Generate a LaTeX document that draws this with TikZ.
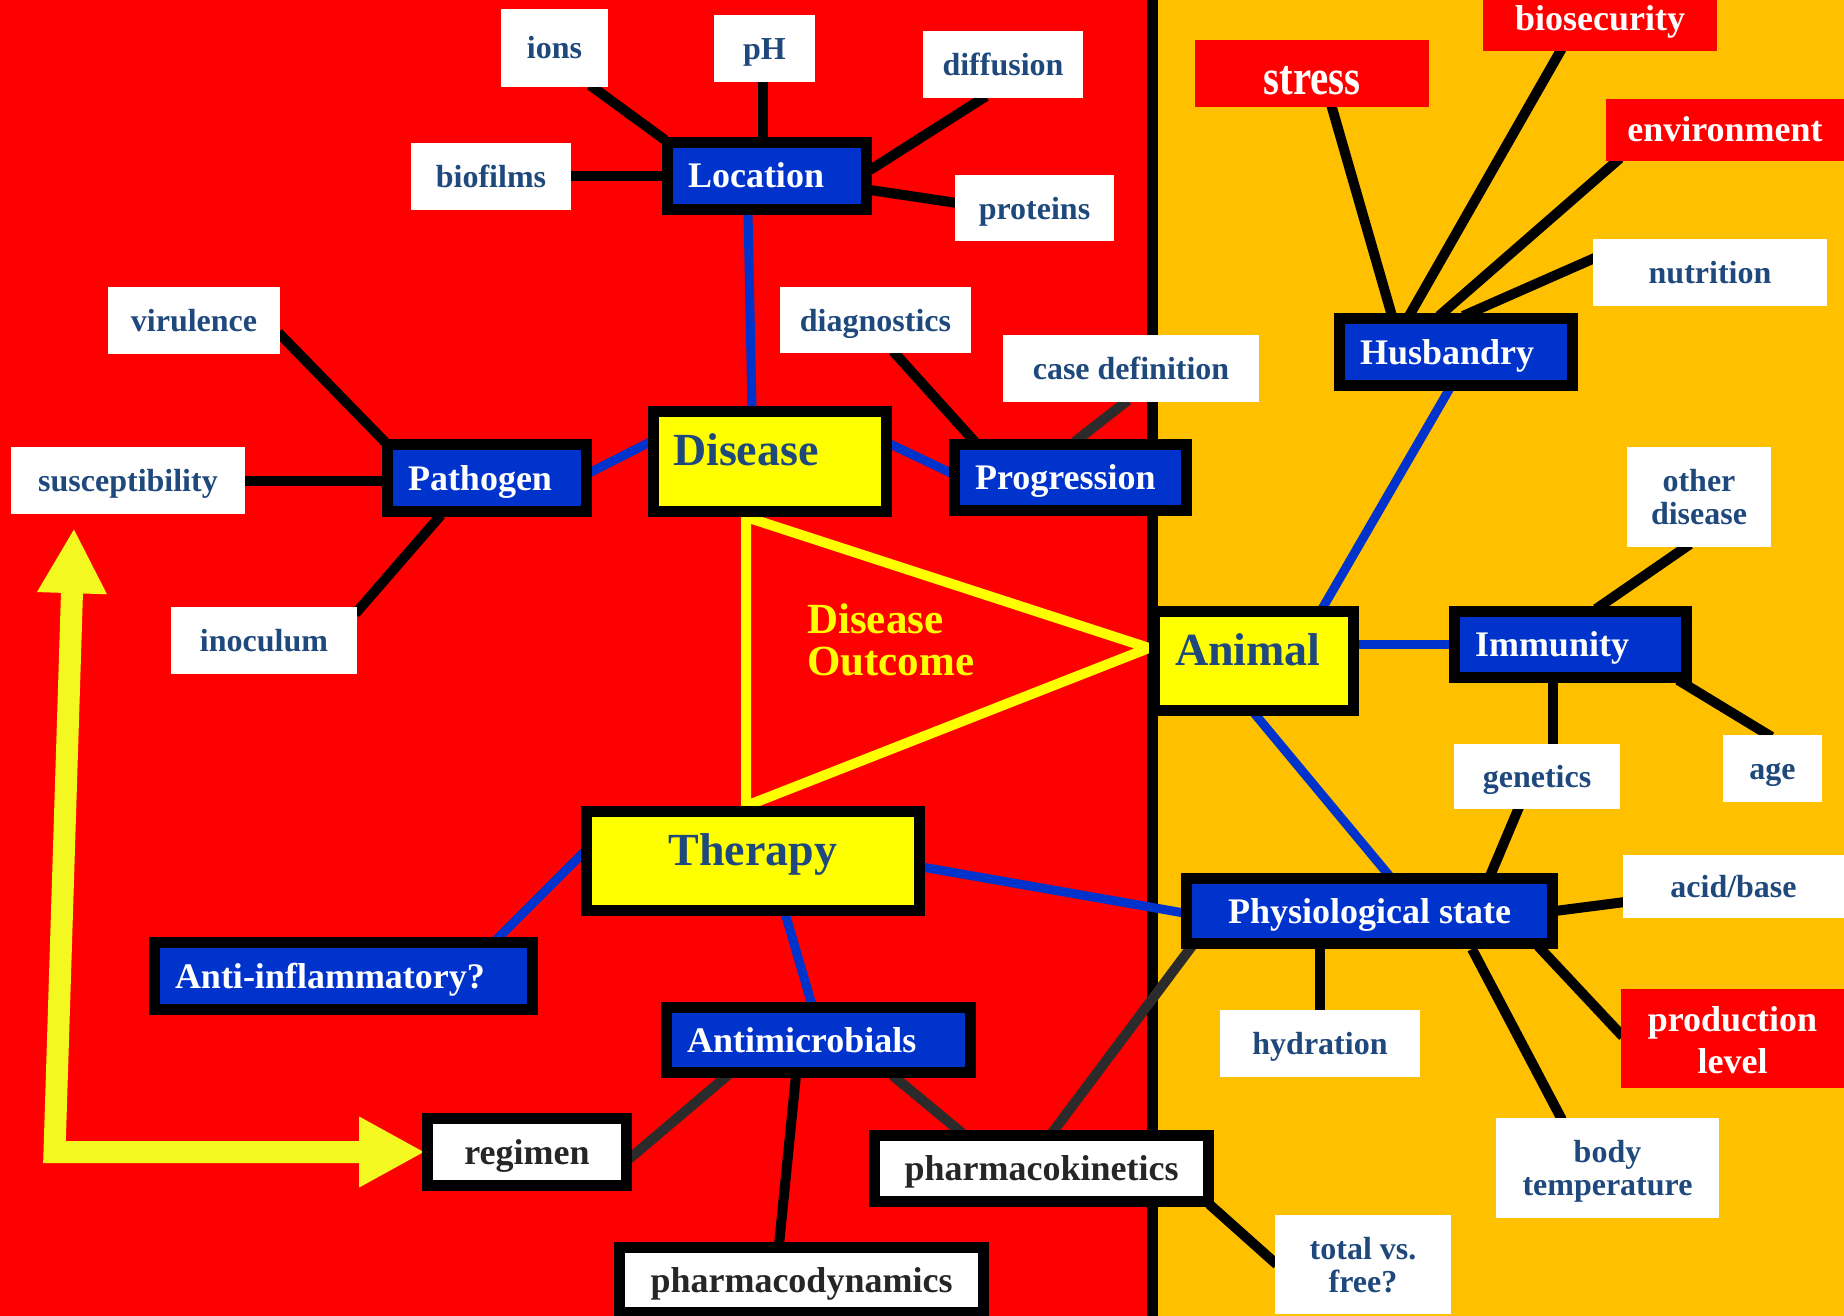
\documentclass[tikz,border=0pt]{standalone}
\usepackage{fontspec}
\setmainfont{Liberation Serif}[Ligatures=CommonOff]
\newfontfamily\narrowserif{Liberation Serif}[FakeStretch=0.82,Ligatures=CommonOff]
\usetikzlibrary{arrows.meta}

\definecolor{bgred}{HTML}{FF0000}
\definecolor{bgorange}{HTML}{FFC000}
\definecolor{boxblue}{HTML}{0033CC}
\definecolor{boxyellow}{HTML}{FFFF00}
\definecolor{navy}{HTML}{1F497D}
\definecolor{inkgray}{HTML}{262626}
\definecolor{darkline}{HTML}{2B2B2B}
\definecolor{arrowyellow}{HTML}{F2F820}

\pgfdeclarelayer{backdrop}
\pgfdeclarelayer{edges}
\pgfsetlayers{backdrop,edges,main}

\tikzset{
  dims/.style 2 args={minimum width=#1pt, minimum height=#2pt},
  % plain white labels with navy text
  wtag/.style={fill=white, text=navy, inner sep=0pt, align=center,
    font=\bfseries\fontsize{32}{33}\selectfont, text height=22pt, text depth=0pt},
  % a two-line label: the text box ends at the baseline of its last line
  twolines/.style={text height=55pt},
  % plain red labels with white text
  rtag/.style={fill=bgred, text=white, inner sep=0pt, align=center,
    font=\bfseries\fontsize{36}{42}\selectfont, text height=24pt, text depth=0pt},
  % boxes with a heavy black frame
  boxframe/.style={draw=black, line width=11pt, inner ysep=0pt},
  bluebox/.style={boxframe, fill=boxblue, text=white, inner xsep=20.5pt, align=left,
    font=\bfseries\fontsize{36}{40}\selectfont, text height=24pt, text depth=0pt},
  whitebox/.style={boxframe, fill=white, text=inkgray, inner xsep=0pt, align=center,
    font=\bfseries\fontsize{36}{40}\selectfont, text height=24pt, text depth=0pt},
  ybox/.style={boxframe, fill=boxyellow, text=navy, inner xsep=20pt,
    font=\bfseries\fontsize{46}{50}\selectfont, text height=30pt, text depth=22pt},
  % connectors
  blk/.style={draw=black, line width=10pt},
  gry/.style={draw=darkline, line width=10pt},
  blu/.style={draw=boxblue, line width=9pt},
  tri/.style={draw=boxyellow, line width=10pt, line join=miter},
  ylarrow/.style={draw=arrowyellow, line width=22pt, line join=miter,
    arrows={Triangle[length=65pt,width=65pt]-Triangle[length=66pt,width=66pt]}}
}

\begin{document}
\begin{tikzpicture}[x=1pt,y=-1pt]
\useasboundingbox (0,0) rectangle (1844,1316);
\clip (0,0) rectangle (1844,1316);

\begin{pgfonlayer}{backdrop}
  \fill[bgred] (0,0) rectangle (1152,1316);
  \fill[bgorange] (1152,0) rectangle (1844,1316);
  \fill[black] (1147,0) rectangle (1158,1316);
\end{pgfonlayer}

% ---- central concepts
\node[ybox, dims={233}{100}, text width=194pt, inner xsep=19.5pt, align=left] (disease) at (770,461.5) {Disease};
\node[ybox, dims={199}{99}, text width=158pt, inner xsep=20.5pt, align=left] (animal) at (1254,661) {Animal};
\node[ybox, dims={333}{99}, inner xsep=0pt, align=center] (therapy) at (753,861) {Therapy};

\node[anchor=west, inner sep=0pt, align=left, text=boxyellow,
  font=\bfseries\fontsize{43}{42}\selectfont, text height=70pt, text depth=0pt]
  (outcome) at (807,640) {Disease\\Outcome};

% ---- blue sub-topics
\node[bluebox, dims={199}{67}, text width=158pt] (loc) at (767,176) {Location};
\node[bluebox, dims={199}{67}, text width=158pt] (pathogen) at (487,478) {Pathogen};
\node[bluebox, dims={232}{66}, text width=191pt] (prog) at (1070.5,477.5) {Progression};
\node[bluebox, dims={233}{67}, text width=192pt] (husb) at (1456,352) {Husbandry};
\node[bluebox, dims={232}{66}, text width=191pt] (imm) at (1570.5,644.5) {Immunity};
\node[bluebox, dims={366}{65}, inner xsep=0pt, align=center] (physio) at (1369.5,911) {Physiological state};
\node[bluebox, dims={304}{65}, text width=263pt] (am) at (818.5,1040) {Antimicrobials};
\node[bluebox, dims={378}{67}, text width=337pt] (ai) at (343.5,976) {Anti-inflammatory?};

% ---- framed white boxes
\node[whitebox, dims={199}{67}] (regimen) at (527,1152) {regimen};
\node[whitebox, dims={334}{66}] (pk) at (1041.5,1168.5) {pharmacokinetics};
\node[whitebox, dims={364}{65}] (pd) at (801.5,1280) {pharmacodynamics};

% ---- plain labels
\node[wtag, dims={107}{78}] (ions) at (554.5,48) {ions};
\node[wtag, dims={101}{67}] (pH) at (764.5,48.5) {pH};
\node[wtag, dims={160}{67}] (diffusion) at (1003,64.5) {diffusion};
\node[wtag, dims={160}{67}] (biofilms) at (491,176.5) {biofilms};
\node[wtag, dims={159}{66}] (proteins) at (1034.5,208) {proteins};
\node[wtag, dims={191}{66}] (diag) at (875.5,320) {diagnostics};
\node[wtag, dims={256}{67}] (casedef) at (1131,368.5) {case definition};
\node[wtag, dims={172}{67}] (virulence) at (194,320.5) {virulence};
\node[wtag, dims={234}{67}] (susc) at (128,480.5) {susceptibility};
\node[wtag, dims={186}{67}] (inoculum) at (264,640.5) {inoculum};
\node[wtag, dims={234}{67}] (nutrition) at (1710,272.5) {nutrition};
\node[wtag, twolines, dims={144}{100}] (otherdis) at (1699,497) {other\\disease};
\node[wtag, dims={166}{65}] (genetics) at (1537,776.5) {genetics};
\node[wtag, dims={99}{67}] (age) at (1772.5,768.5) {age};
\node[wtag, dims={221}{63}] (acidbase) at (1733.5,886) {acid/base};
\node[wtag, dims={200}{67}] (hydration) at (1320,1043.5) {hydration};
\node[wtag, twolines, dims={223}{100}] (bodytemp) at (1607.5,1168) {body\\temperature};
\node[wtag, twolines, dims={176}{99}] (totalfree) at (1363,1264.5) {total vs.\\free?};

% ---- red labels
\node[rtag, dims={234}{67}, font=\narrowserif\bfseries\fontsize{50}{54}\selectfont, text height=43pt] (stress) at (1312,73.5) {stress};
\node[rtag, dims={234}{67}, text height=26pt] (biosec) at (1600,17.5) {biosecurity};
\node[rtag, dims={238}{62}] (env) at (1725,130) {environment};
\node[rtag, dims={223}{99}, text height=70pt] (production) at (1732.5,1038.5) {production\\level};

\begin{pgfonlayer}{edges}
  % Location
  \draw[blk] ([shift={(35.5,-2)}]ions.south) -- ([shift={(3,3)}]loc.north west);
  \draw[blk] ([shift={(-1.5,-2)}]pH.south) -- ([shift={(-4,3)}]loc.north);
  \draw[blk] ([shift={(-17,-2)}]diffusion.south) -- ([shift={(-2,-6)}]loc.east);
  \draw[blk] ([shift={(2,-5)}]proteins.west) -- ([shift={(-2,14)}]loc.east);
  \draw[blk] (biofilms.east) -- (biofilms.east -| loc.west);
  % Pathogen
  \draw[blk] ([shift={(-2,12)}]virulence.east) -- ([shift={(3,3)}]pathogen.north west);
  \draw[blk] (susc.east) -- (susc.east -| pathogen.west);
  \draw[blk] ([shift={(-2,7)}]inoculum.north east) -- ([shift={(-46,-2)}]pathogen.south);
  % Progression
  \draw[blk] ([shift={(17.5,-2)}]diag.south) -- ([shift={(26,3)}]prog.north west);
  \draw[gry] ([shift={(-3,-2)}]casedef.south) -- ([shift={(4,3)}]prog.north);
  % Husbandry
  \draw[blk] ([shift={(19,-3)}]stress.south) -- ([shift={(-64,3)}]husb.north);
  \draw[blk] ([shift={(-38,-3)}]biosec.south) -- ([shift={(-47,3)}]husb.north);
  \draw[blk] ([shift={(-105,-3)}]env.south) -- ([shift={(-17,3)}]husb.north);
  \draw[blk] ([shift={(3,-15)}]nutrition.west) -- ([shift={(7,3)}]husb.north);
  % Immunity
  \draw[blk] ([shift={(25.5,3)}]imm.north) -- ([shift={(-9,-3)}]otherdis.south);
  \draw[blk] ([xshift=-17.5]imm.south) -- ([xshift=-17.5]imm.south |- genetics.north);
  \draw[blk] ([shift={(-14,-3)}]imm.south east) -- ([shift={(-1,2)}]age.north);
  % Physiological state
  \draw[blk] ([shift={(-18,-2)}]genetics.south) -- ([shift={(120.5,3)}]physio.north);
  \draw[blk] ([shift={(-3,0)}]physio.east) -- ([shift={(2,16)}]acidbase.west);
  \draw[blk] ([shift={(-20,-3)}]physio.south east) -- ([shift={(2,-2)}]production.west);
  \draw[blk] (hydration.north) -- (hydration.north |- physio.south);
  \draw[blk] ([xshift=102.5]physio.south) -- ([shift={(-45.5,2)}]bodytemp.north);
  \draw[gry] ([shift={(10.5,3)}]pk.north) -- ([shift={(11,-3)}]physio.south west);
  \draw[blk] ([shift={(-5,-3)}]pk.south east) -- ([shift={(2,0)}]totalfree.west);
  % Antimicrobials
  \draw[gry] ([shift={(-90.5,-3)}]am.south) -- ([shift={(-3,7)}]regimen.east);
  \draw[blk] ([shift={(-22.5,-3)}]am.south) -- ([shift={(-22.5,3)}]pd.north);
  \draw[gry] ([shift={(73.5,-3)}]am.south) -- ([shift={(93,3)}]pk.north west);
  % links between the main concepts
  \draw[blu] ([shift={(-19,-3)}]loc.south) -- ([shift={(-18,3)}]disease.north);
  \draw[blu] ([shift={(-3,-5)}]pathogen.east) -- ([shift={(3,-20)}]disease.west);
  \draw[blu] ([shift={(-3,-18)}]disease.east) -- ([shift={(3,-4)}]prog.west);
  \draw[blu] ([shift={(-6,-3)}]husb.south) -- ([shift={(68,3)}]animal.north);
  \draw[blu] (imm.west) -- (imm.west -| animal.east);
  \draw[blu] ([shift={(0,-3)}]animal.south) -- ([shift={(20,3)}]physio.north);
  \draw[blu] ([shift={(-3,6)}]therapy.east) -- ([shift={(3,2)}]physio.west);
  \draw[blu] ([shift={(32,-3)}]therapy.south) -- ([shift={(-6.5,3)}]am.north);
  \draw[blu] ([shift={(3,-9)}]therapy.west) -- ([shift={(152.5,3)}]ai.north);
  % disease triangle
  \draw[tri] ([xshift=-24]disease.south) -- ([shift={(0,-13)}]animal.west) -- ([xshift=-7]therapy.north) -- cycle;
  % feedback arrow between regimen and susceptibility
  \draw[ylarrow] ([shift={(-54,14)}]susc.south) -- ([xshift=-367.5]regimen.west) -- ([xshift=3]regimen.west);
\end{pgfonlayer}
\end{tikzpicture}
\end{document}
